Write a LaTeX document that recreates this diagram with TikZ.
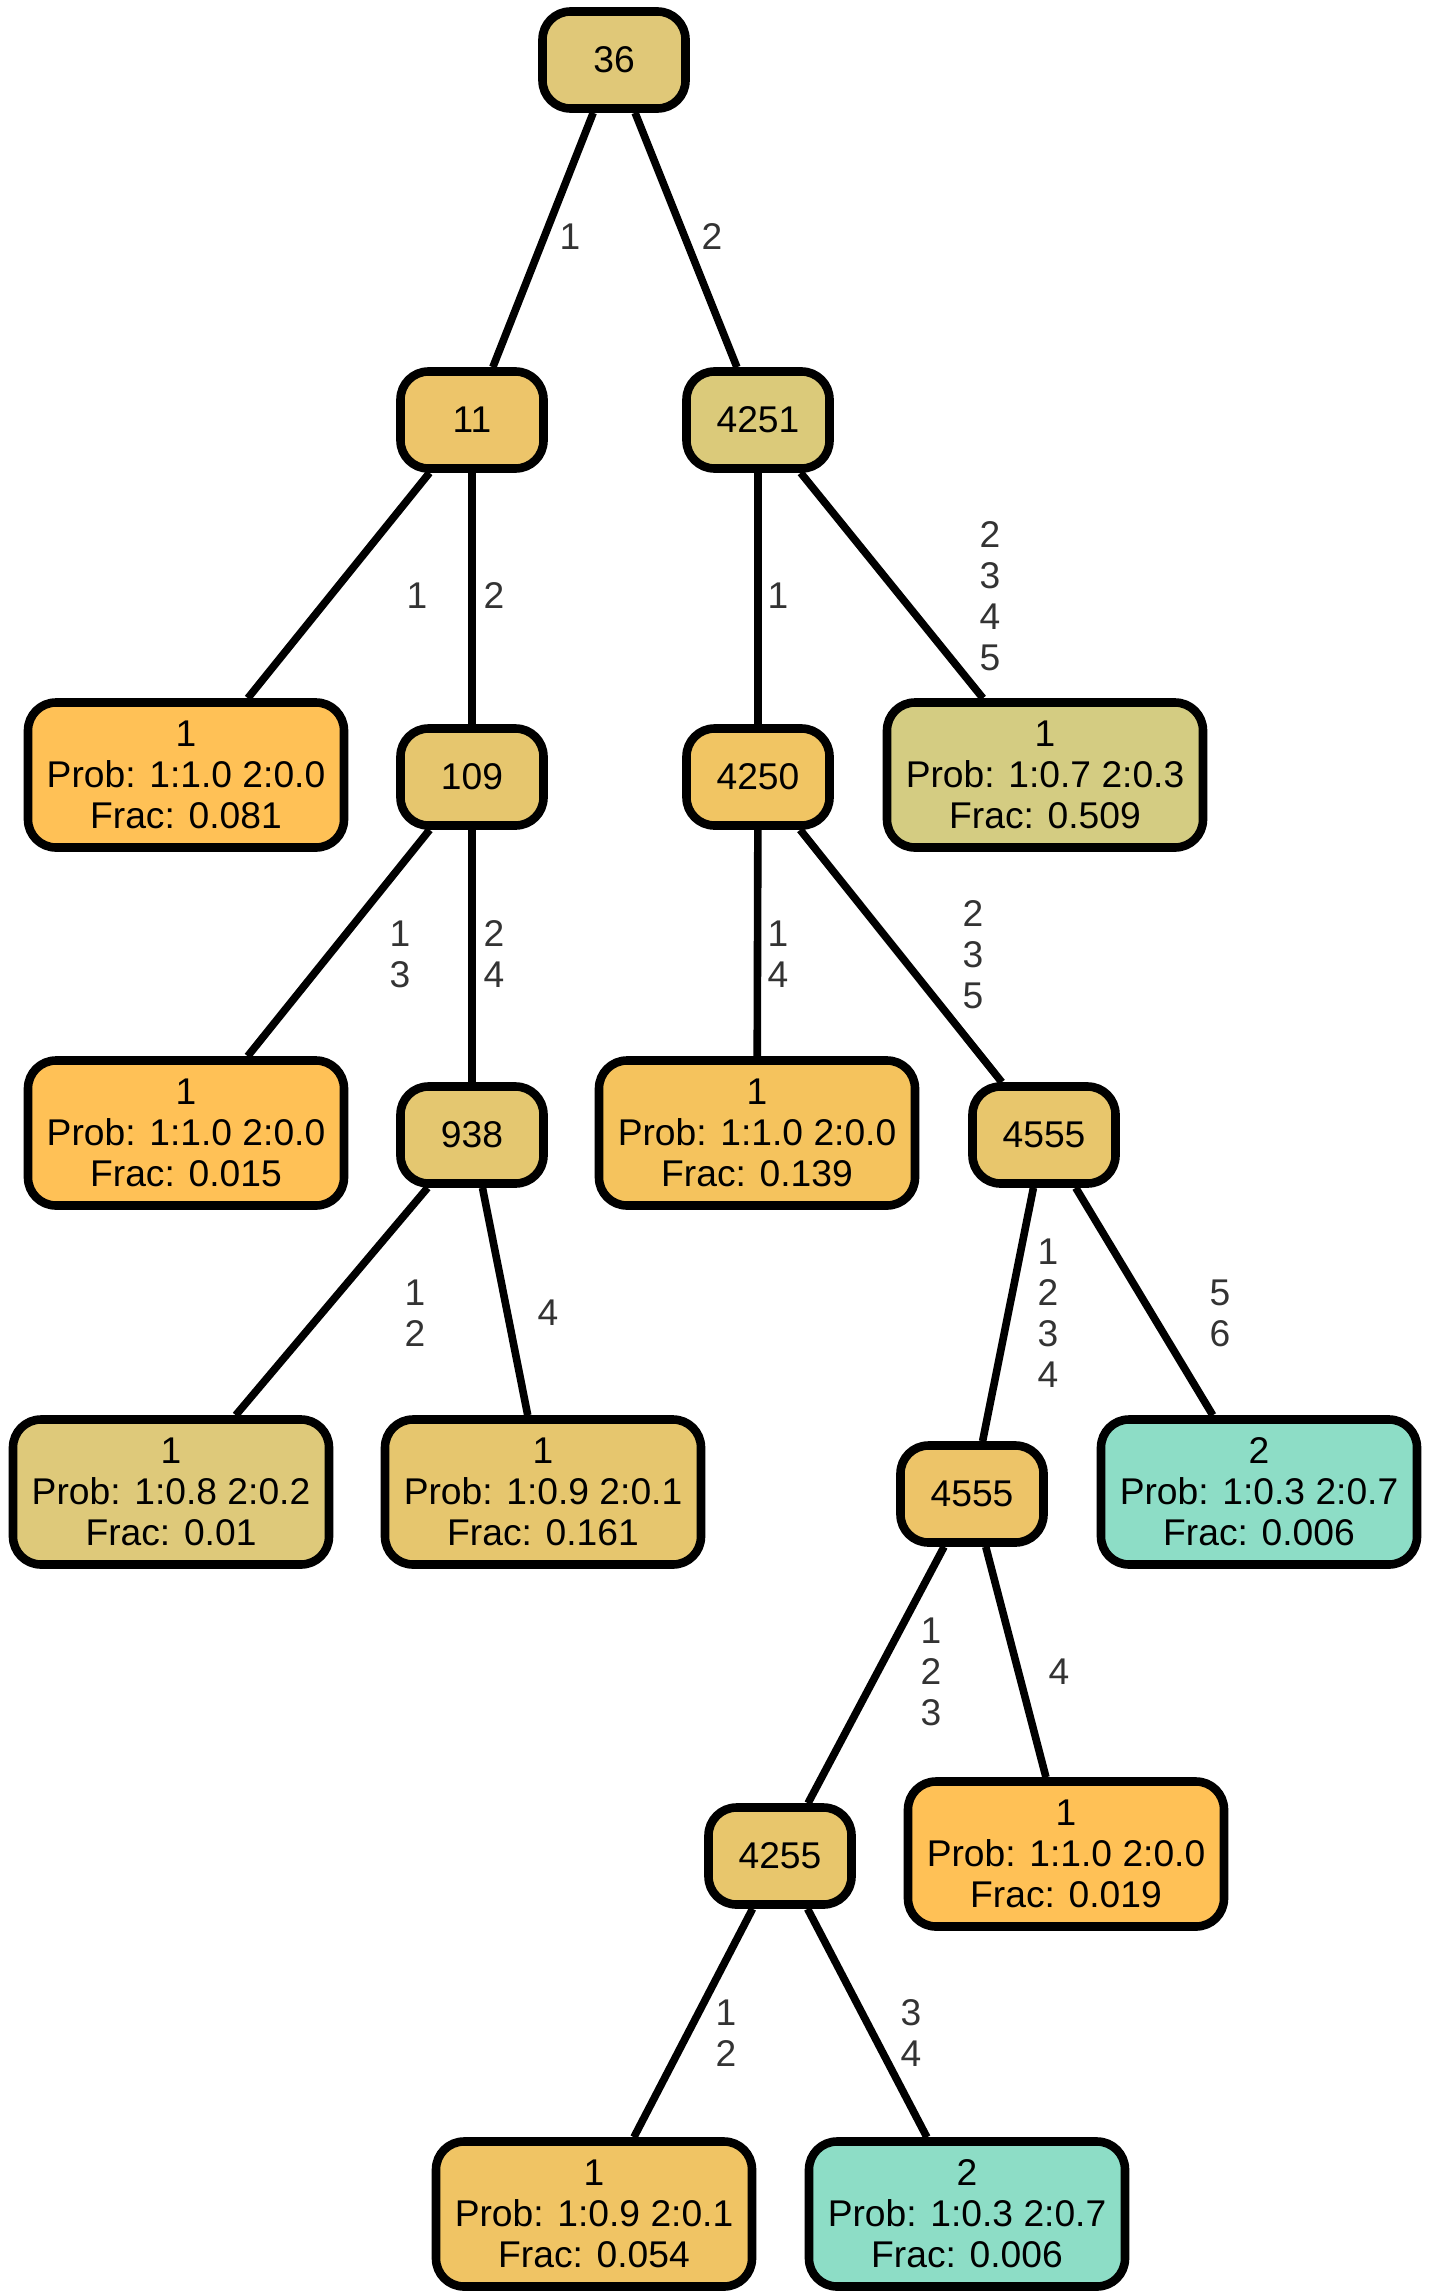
\documentclass[tikz,border=0pt]{standalone}
\usepackage{fontspec}
\setmainfont{Liberation Sans}

\definecolor{tan36}{RGB}{224,200,120}
\definecolor{tan11}{RGB}{237,197,106}
\definecolor{tan4251}{RGB}{219,202,122}
\definecolor{pure1}{RGB}{255,193,86}
\definecolor{tan109}{RGB}{230,198,110}
\definecolor{tan4250}{RGB}{241,197,99}
\definecolor{olive}{RGB}{212,204,130}
\definecolor{tan938}{RGB}{228,199,112}
\definecolor{tan139}{RGB}{245,195,93}
\definecolor{tan4555}{RGB}{232,198,108}
\definecolor{tan01}{RGB}{222,201,122}
\definecolor{tan161}{RGB}{230,198,110}
\definecolor{tan4555b}{RGB}{237,196,104}
\definecolor{mint}{RGB}{141,221,198}
\definecolor{tan054}{RGB}{240,196,100}

\begin{document}
\begin{tikzpicture}[x=0.5pt,y=-0.5pt]
    \tikzstyle{every node}=[font=\fontsize{18.6}{20.5}\selectfont]
    \tikzstyle{box}=[draw, line width=4.3pt, rounded corners=14pt, align=center, inner sep=0pt]
    \tikzstyle{split}=[box, minimum width=71.5pt, minimum height=48.5pt]
    \tikzstyle{leaf}=[box, minimum width=158pt, minimum height=72.5pt]
    \tikzstyle{branch}=[line width=3.8pt]
    \tikzstyle{lbl}=[text=black!80, align=center]

    \useasboundingbox (0,0) rectangle (1431,2296);

    % inner nodes
    \node[split, fill=tan36]    (n36)   at (614,60)   {36};
    \node[split, fill=tan11]    (n11)   at (472,420)  {11};
    \node[split, fill=tan4251]  (n4251) at (758,420)  {4251};
    \node[split, fill=tan109]   (n109)  at (472,777)  {109};
    \node[split, fill=tan4250]  (n4250) at (758,777)  {4250};
    \node[split, fill=tan938]   (n938)  at (472,1135) {938};
    \node[split, fill=tan4555]  (n4555) at (1044,1135) {4555};
    \node[split, fill=tan4555b] (m4555) at (972,1494) {4555};
    \node[split, fill=tan4555]  (n4255) at (780,1856) {4255};

    % leaves
    \node[leaf, fill=pure1]   (l081) at (186,775)   {1\\Prob: 1:1.0 2:0.0\\Frac: 0.081};
    \node[leaf, fill=olive]   (l509) at (1045,775)  {1\\Prob: 1:0.7 2:0.3\\Frac: 0.509};
    \node[leaf, fill=pure1]   (l015) at (186,1133)  {1\\Prob: 1:1.0 2:0.0\\Frac: 0.015};
    \node[leaf, fill=tan139]  (l139) at (757,1133)  {1\\Prob: 1:1.0 2:0.0\\Frac: 0.139};
    \node[leaf, fill=tan01]   (l010) at (171,1492)  {1\\Prob: 1:0.8 2:0.2\\Frac: 0.01};
    \node[leaf, fill=tan161]  (l161) at (543,1492)  {1\\Prob: 1:0.9 2:0.1\\Frac: 0.161};
    \node[leaf, fill=mint]    (l006a) at (1259,1492) {2\\Prob: 1:0.3 2:0.7\\Frac: 0.006};
    \node[leaf, fill=pure1]   (l019) at (1066,1854) {1\\Prob: 1:1.0 2:0.0\\Frac: 0.019};
    \node[leaf, fill=tan054]  (l054) at (594,2214)  {1\\Prob: 1:0.9 2:0.1\\Frac: 0.054};
    \node[leaf, fill=mint]    (l006b) at (967,2214) {2\\Prob: 1:0.3 2:0.7\\Frac: 0.006};

    % branches with their labels
    \foreach \a/\b/\x/\y/\t in {n36/n11/570/237/{1}, n36/n4251/712/237/{2},
        n11/l081/417/596/{1}, n11/n109/494/596/{2},
        n4251/n4250/778/596/{1}, n4251/l509/990/596/{2\\3\\4\\5},
        n109/l015/400/954/{1\\3}, n109/n938/494/954/{2\\4},
        n4250/l139/778/954/{1\\4}, n4250/n4555/973/955/{2\\3\\5},
        n938/l010/415/1313/{1\\2}, n938/l161/548/1313/{4},
        n4555/m4555/1048/1313/{1\\2\\3\\4}, n4555/l006a/1220/1313/{5\\6},
        m4555/n4255/931/1672/{1\\2\\3}, m4555/l019/1059/1672/{4},
        n4255/l054/726/2033/{1\\2}, n4255/l006b/911/2033/{3\\4}}
        \draw[branch] (\a) -- (\b) node[lbl] at (\x,\y) {\t};
\end{tikzpicture}
\end{document}
